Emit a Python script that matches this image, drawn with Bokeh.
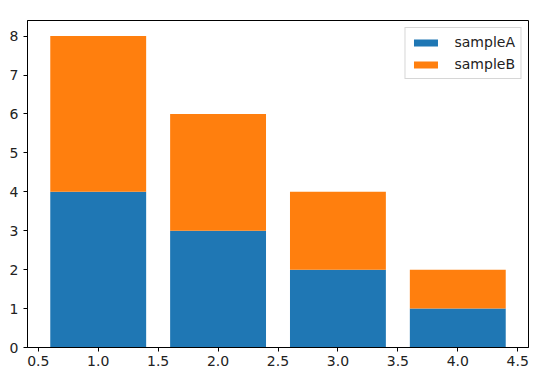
from bokeh.plotting import figure
from bokeh.models import FixedTicker, Legend, LegendItem, Range1d
from bokeh.embed import file_html
from bokeh.resources import INLINE

x = [1, 2, 3, 4]
sampleA = [4, 3, 2, 1]
sampleB = [4, 3, 2, 1]
x_ticks = [0.5, 1.0, 1.5, 2.0, 2.5, 3.0, 3.5, 4.0, 4.5]
x_tick_labels = ["0.5", "1.0", "1.5", "2.0", "2.5", "3.0", "3.5", "4.0", "4.5"]
y_ticks = [0, 1, 2, 3, 4, 5, 6, 7, 8]

blue = "#1f77b4"
orange = "#ff7f0e"
FONT = "DejaVu Sans"
FS = "14px"

p = figure(frame_width=501, frame_height=327, output_backend="svg",
           toolbar_location=None, x_range=Range1d(0.41, 4.59), y_range=Range1d(0, 8.4),
           min_border_left=27, min_border_top=20, min_border_right=16, min_border_bottom=26)

bottomB = [a for a in sampleA]
topB = [a + b for a, b in zip(sampleA, sampleB)]
rA = p.vbar(x=x, top=sampleA, bottom=0, width=0.8, fill_color=blue, line_color=None)
rB = p.vbar(x=x, top=topB, bottom=bottomB, width=0.8, fill_color=orange, line_color=None)

p.xgrid.visible = False
p.ygrid.visible = False
p.outline_line_color = "black"
p.outline_line_width = 1

for ax in (p.xaxis[0], p.yaxis[0]):
    ax.axis_line_color = "black"
    ax.major_tick_line_color = "black"
    ax.minor_tick_line_color = None
    ax.major_tick_out = 4
    ax.major_tick_in = 0
    ax.major_label_text_font = FONT
    ax.major_label_text_font_size = FS
    ax.major_label_text_color = "#222222"

p.xaxis.ticker = FixedTicker(ticks=x_ticks)
p.xaxis.major_label_overrides = {t: l for t, l in zip(x_ticks, x_tick_labels)}
p.yaxis.ticker = FixedTicker(ticks=y_ticks)
p.xaxis.major_label_standoff = 4
p.yaxis.major_label_standoff = 5

legend = Legend(items=[LegendItem(label="sampleA", renderers=[rA]),
                       LegendItem(label="sampleB", renderers=[rB])],
                location="top_right", margin=7, padding=5, spacing=4,
                glyph_width=30, glyph_height=9, label_height=18, label_standoff=14,
                label_text_font=FONT, label_text_font_size=FS, label_text_color="#222222",
                border_line_color="#cccccc", border_line_alpha=0.8,
                background_fill_alpha=0.8)
p.add_layout(legend)

open("out.html", "w").write(file_html(p, INLINE))
